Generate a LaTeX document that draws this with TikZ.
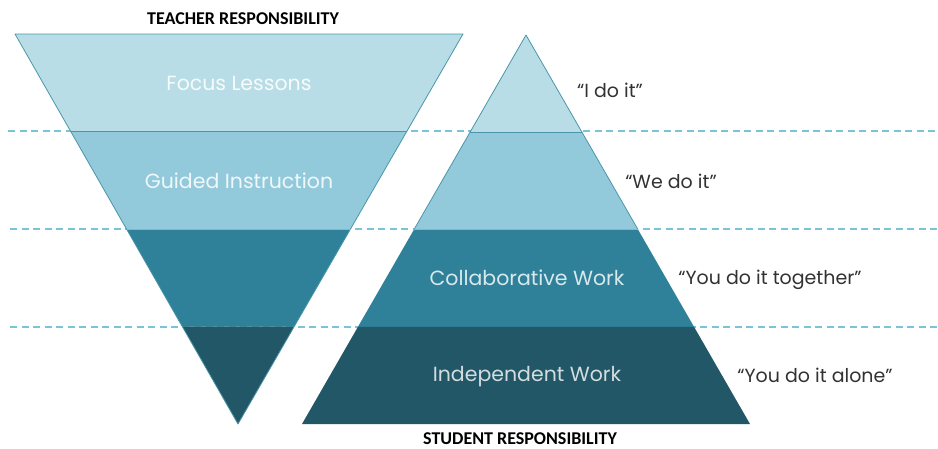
\documentclass[tikz,border=0pt]{standalone}
\usepackage{fontspec}
\newfontfamily\geo{Poppins}
\newfontfamily\calib{Carlito}
\usetikzlibrary{calc}
\definecolor{bandA}{RGB}{184,221,230}
\definecolor{bandB}{RGB}{147,202,219}
\definecolor{bandC}{RGB}{46,129,153}
\definecolor{bandD}{RGB}{33,87,102}
\definecolor{edgecol}{RGB}{74,150,168}
\definecolor{dashcol}{RGB}{125,195,214}
\definecolor{quotecol}{RGB}{50,50,50}
\tikzset{
  band/.style={draw=edgecol, line width=0.8pt, line join=round},
  guide/.style={draw=dashcol, line width=1.2pt, dash pattern=on 7pt off 4.5pt},
  inlabel/.style={font=\geo\fontsize{20.5}{24}\selectfont, inner sep=0pt, anchor=center},
  quote/.style={font=\geo\fontsize{19}{22}\selectfont, text=quotecol, inner sep=0pt, anchor=center},
  header/.style={font=\calib\bfseries\fontsize{18}{21}\selectfont, text=black, inner sep=0pt}
}
\begin{document}
\begin{tikzpicture}[x=1pt,y=-1pt]
\useasboundingbox (0,0) rectangle (938,448);
% left (inverted) triangle
\coordinate (LTL) at (15,34);
\coordinate (LTR) at (463,34);
\coordinate (LA) at (238,424);
% right triangle
\coordinate (RA) at (526,35);
\coordinate (RBL) at (302,424);
\coordinate (RBR) at (750,424);
% guide line ends
\coordinate (g1a) at (8,131);   \coordinate (g1b) at (938,131);
\coordinate (g2a) at (10,229);  \coordinate (g2b) at (938,229);
\coordinate (g3a) at (10,327);  \coordinate (g3b) at (938,327);
\draw[guide] (g1a) -- (g1b);
\draw[guide] (g2a) -- (g2b);
\draw[guide] (g3a) -- (g3b);
% left bands
\fill[bandA] (LTL) -- (LTR) -- ($(LTR)!0.25!(LA)$) -- ($(LTL)!0.25!(LA)$) -- cycle;
\fill[bandB] ($(LTL)!0.25!(LA)$) -- ($(LTR)!0.25!(LA)$) -- ($(LTR)!0.5!(LA)$) -- ($(LTL)!0.5!(LA)$) -- cycle;
\fill[bandC] ($(LTL)!0.5!(LA)$) -- ($(LTR)!0.5!(LA)$) -- ($(LTR)!0.75!(LA)$) -- ($(LTL)!0.75!(LA)$) -- cycle;
\fill[bandD] ($(LTL)!0.75!(LA)$) -- ($(LTR)!0.75!(LA)$) -- (LA) -- cycle;
\draw[band] (LTL) -- (LTR) -- (LA) -- cycle;
\draw[band] ($(LTL)!0.25!(LA)$) -- ($(LTR)!0.25!(LA)$);
\draw[band, draw=bandB!70!edgecol] ($(LTL)!0.5!(LA)$) -- ($(LTR)!0.5!(LA)$);
% right bands
\fill[bandA] (RA) -- ($(RA)!0.25!(RBR)$) -- ($(RA)!0.25!(RBL)$) -- cycle;
\fill[bandB] ($(RA)!0.25!(RBL)$) -- ($(RA)!0.25!(RBR)$) -- ($(RA)!0.5!(RBR)$) -- ($(RA)!0.5!(RBL)$) -- cycle;
\fill[bandC] ($(RA)!0.5!(RBL)$) -- ($(RA)!0.5!(RBR)$) -- ($(RA)!0.75!(RBR)$) -- ($(RA)!0.75!(RBL)$) -- cycle;
\fill[bandD] ($(RA)!0.75!(RBL)$) -- ($(RA)!0.75!(RBR)$) -- (RBR) -- (RBL) -- cycle;
\draw[band] ($(RA)!0.5!(RBL)$) -- (RA) -- ($(RA)!0.5!(RBR)$);
\draw[band] ($(RA)!0.25!(RBL)$) -- ($(RA)!0.25!(RBR)$);
\draw[band, draw=bandB!70!edgecol] ($(RA)!0.5!(RBL)$) -- ($(RA)!0.5!(RBR)$);
% labels inside
\node[inlabel, text=white!88!bandA] (focus) at (239,83) {Focus Lessons};
\node[inlabel, text=white!85!bandB] (guided) at (239,181) {Guided Instruction};
\node[inlabel, text=white!82!bandC] (collab) at (527,278) {Collaborative Work};
\node[inlabel, text=white!80!bandD] (indep) at (527,377) {Independent Work};
% quotes
\node[quote] (q1) at (610,90) {“I do it”};
\node[quote] (q2) at (671,181) {“We do it”};
\node[quote] (q3) at (770,280) {“You do it together”};
\node[quote] (q4) at (815,375) {“You do it alone”};
% headers
\node[header, anchor=center] (teacher) at (243,19) {TEACHER RESPONSIBILITY};
\node[header, anchor=base] (student) at (520,444) {STUDENT RESPONSIBILITY};
\end{tikzpicture}
\end{document}
